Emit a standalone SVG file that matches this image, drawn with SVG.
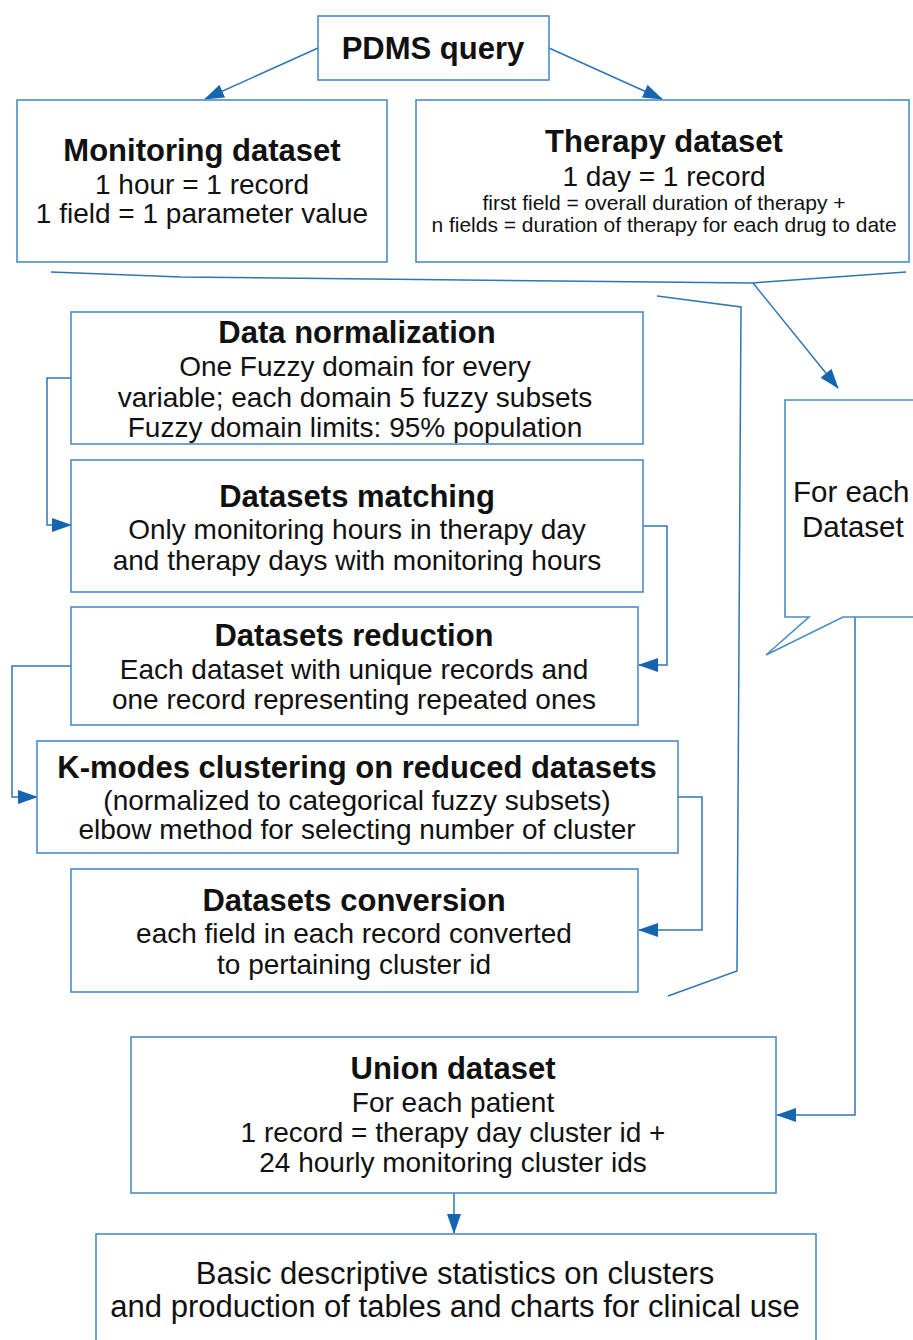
<svg xmlns="http://www.w3.org/2000/svg" width="913" height="1340" viewBox="0 0 913 1340">
<defs>
<marker id="ah" markerWidth="20" markerHeight="14" refX="19" refY="7" orient="auto" markerUnits="userSpaceOnUse">
<path d="M0,0 L20,7 L0,14 Z" fill="#1565b0"/>
</marker>
<style>
.box{fill:#fff;stroke:#4a8cc9;stroke-width:1.6}
.ln{fill:none;stroke:#2f75b5;stroke-width:1.5}
.arr{fill:none;stroke:#2f75b5;stroke-width:1.5;marker-end:url(#ah)}
text{font-family:"Liberation Sans",Arial,sans-serif;fill:#111;text-anchor:middle}
.t{font-weight:bold;font-size:31px}
.b{font-size:28px}
.s{font-size:21px}
.l{font-size:31px}
.c{font-size:29.5px;text-anchor:start}
</style>
</defs>
<rect width="913" height="1340" fill="#fff"/>
<g id="connectors">
<line class="arr" x1="318" y1="48" x2="205" y2="99"/>
<line class="arr" x1="549" y1="48" x2="662" y2="99"/>
<polyline class="ln" points="51,272 181,277 753,283 765,282 906,272"/>
<line class="arr" x1="753" y1="283" x2="838" y2="388"/>
<polyline class="ln" points="657,296 741,307 737,971 668,996"/>
<polyline class="arr" points="71,378 47,378 47,525 71,525"/>
<polyline class="arr" points="643,526 667,526 667,665 639,665"/>
<polyline class="arr" points="71,666 12,666 12,797 37,797"/>
<polyline class="arr" points="678,797 702,797 702,930 639,930"/>
<polyline class="arr" points="855,617 855,1115 777,1115"/>
<line class="arr" x1="454" y1="1193" x2="454" y2="1233"/>
</g>
<g id="pdms">
<rect class="box" x="318" y="16" width="231" height="64"/>
<text class="t" x="433" y="59">PDMS query</text>
</g>
<g id="monitoring">
<rect class="box" x="17" y="100" width="370" height="162"/>
<text class="t" x="202" y="161">Monitoring dataset</text>
<text class="b" x="202" y="194">1 hour = 1 record</text>
<text class="b" x="202" y="223">1 field = 1 parameter value</text>
</g>
<g id="therapy">
<rect class="box" x="416" y="100" width="493" height="162"/>
<text class="t" x="664" y="152">Therapy dataset</text>
<text class="b" x="664" y="186">1 day = 1 record</text>
<text class="s" x="664" y="210">first field = overall duration of therapy +</text>
<text class="s" x="664" y="232">n fields = duration of therapy for each drug to date</text>
</g>
<g id="normalization">
<rect class="box" x="71" y="312" width="572" height="132"/>
<text class="t" x="357" y="343">Data normalization</text>
<text class="b" x="355" y="376">One Fuzzy domain for every</text>
<text class="b" x="355" y="407">variable; each domain 5 fuzzy subsets</text>
<text class="b" x="355" y="437">Fuzzy domain limits: 95% population</text>
</g>
<g id="matching">
<rect class="box" x="71" y="460" width="572" height="132"/>
<text class="t" x="357" y="507">Datasets matching</text>
<text class="b" x="357" y="539">Only monitoring hours in therapy day</text>
<text class="b" x="357" y="570">and therapy days with monitoring hours</text>
</g>
<g id="reduction">
<rect class="box" x="71" y="607" width="567" height="118"/>
<text class="t" x="354" y="646">Datasets reduction</text>
<text class="b" x="354" y="679">Each dataset with unique records and</text>
<text class="b" x="354" y="709">one record representing repeated ones</text>
</g>
<g id="kmodes">
<rect class="box" x="37" y="741" width="641" height="112"/>
<text class="t" x="357" y="778">K-modes clustering on reduced datasets</text>
<text class="b" x="357" y="810">(normalized to categorical fuzzy subsets)</text>
<text class="b" x="357" y="839">elbow method for selecting number of cluster</text>
</g>
<g id="conversion">
<rect class="box" x="71" y="869" width="567" height="123"/>
<text class="t" x="354" y="911">Datasets conversion</text>
<text class="b" x="354" y="943">each field in each record converted</text>
<text class="b" x="354" y="974">to pertaining cluster id</text>
</g>
<g id="foreach">
<path class="box" d="M785,400 H916 V617 H843 L766,655 L809,617 H785 Z"/>
<text class="c" x="793" y="502">For each</text>
<text class="c" x="802" y="537">Dataset</text>
</g>
<g id="union">
<rect class="box" x="131" y="1037" width="645" height="156"/>
<text class="t" x="453" y="1079">Union dataset</text>
<text class="b" x="453" y="1112">For each patient</text>
<text class="b" x="453" y="1142">1 record = therapy day cluster id +</text>
<text class="b" x="453" y="1172">24 hourly monitoring cluster ids</text>
</g>
<g id="stats">
<rect class="box" x="96" y="1234" width="720" height="120"/>
<text class="l" x="455" y="1284">Basic descriptive statistics on clusters</text>
<text class="l" x="455" y="1317">and production of tables and charts for clinical use</text>
</g>
</svg>
